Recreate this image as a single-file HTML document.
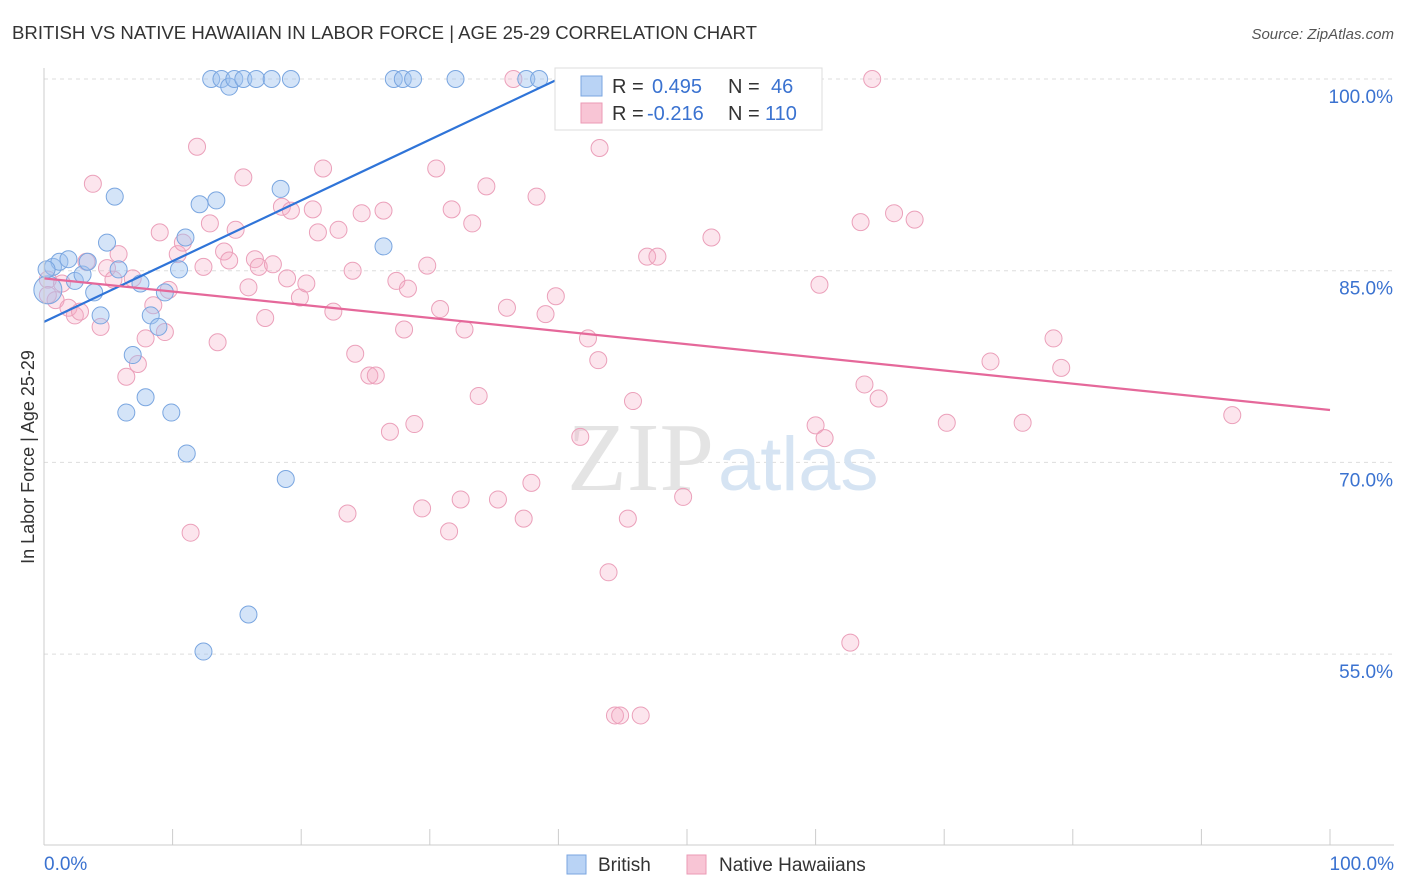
<!DOCTYPE html>
<html><head><meta charset="utf-8"><style>
body{margin:0;background:#fff;font-family:"Liberation Sans",sans-serif;}
svg{display:block}
</style></head><body>
<svg id="chart" width="1406" height="892" xmlns="http://www.w3.org/2000/svg">
<text x="12" y="39" font-size="18.6" fill="#333" textLength="745">BRITISH VS NATIVE HAWAIIAN IN LABOR FORCE | AGE 25-29 CORRELATION CHART</text>
<text x="1394" y="39" font-size="15" fill="#555" font-style="italic" text-anchor="end">Source: ZipAtlas.com</text>
<text x="34" y="457" font-size="18" fill="#333" text-anchor="middle" transform="rotate(-90 34 457)">In Labor Force | Age 25-29</text>
<g id="grid"></g>
<text x="714" y="490" font-size="98" fill="#e4e4e4" font-family="Liberation Serif,serif" text-anchor="end">ZIP</text>
<text x="718" y="490" font-size="76" fill="#d6e4f3" text-anchor="start">atlas</text>
<g id="points"></g>
<g id="lines"></g>
<g id="axes"></g>
<g>
<rect x="555" y="68" width="267" height="62" fill="#fff" stroke="#ddd"/>
<rect x="581" y="76" width="21" height="20" fill="#b9d3f5" stroke="#7aa6e0"/>
<rect x="581" y="103" width="21" height="20" fill="#f8c5d5" stroke="#eb9ab5"/>
<g font-size="20">
<text x="612" y="93" fill="#333">R =</text><text x="652" y="93" fill="#3a72d0">0.495</text>
<text x="728" y="93" fill="#333">N =</text><text x="771" y="93" fill="#3a72d0">46</text></g>
<g font-size="20">
<text x="612" y="120" fill="#333">R =</text><text x="647" y="120" fill="#3a72d0">-0.216</text>
<text x="728" y="120" fill="#333">N =</text><text x="765" y="120" fill="#3a72d0">110</text></g>
</g>
<g>
<rect x="567" y="855" width="19" height="19" fill="#b9d3f5" stroke="#7aa6e0"/>
<text x="598" y="871" font-size="19" fill="#333">British</text>
<rect x="687" y="855" width="19" height="19" fill="#f8c5d5" stroke="#eb9ab5"/>
<text x="719" y="871" font-size="19" fill="#333">Native Hawaiians</text>
</g>
</svg>
<script>
const yTicks=[100,85,70,55];
const yTickLabels=["100.0%","85.0%","70.0%","55.0%"];
const xTicks=[0,10,20,30,40,50,60,70,80,90,100];
const britishX=[0.7,1.2,1.9,2.4,3.0,3.4,3.9,4.4,4.9,5.5,5.8,6.4,6.9,7.5,7.9,8.3,8.9,9.4,9.9,10.5,11.0,11.1,12.1,12.4,13.0,13.4,13.8,14.4,14.8,15.5,15.9,16.5,17.7,18.4,18.8,19.2,26.4,27.2,27.9,28.7,32.0,37.5,38.5,0.3,0.2];
const britishY=[85.3,85.7,85.9,84.2,84.7,85.7,83.3,81.5,87.2,90.8,85.1,73.9,78.4,84.0,75.1,81.5,80.6,83.3,73.9,85.1,87.6,70.7,90.2,55.2,100,90.5,100,99.4,100,100,58.1,100,100,91.4,68.7,100,86.9,100,100,100,100,100,100,83.5,85.1];
const hawX=[0.3,0.9,1.4,1.9,2.4,2.8,3.3,3.8,4.4,4.9,5.4,5.8,6.4,6.9,7.3,7.9,8.5,9.0,9.4,9.7,10.4,10.8,11.4,11.9,12.4,12.9,13.5,14.0,14.4,14.9,15.5,15.9,16.4,16.7,17.2,17.8,18.5,18.9,19.2,19.9,20.4,20.9,21.3,21.7,22.5,22.9,23.6,24.0,24.2,24.7,25.3,25.8,26.4,26.9,27.4,28.0,28.3,28.8,29.4,29.8,30.5,30.8,31.5,31.7,32.4,32.7,33.3,33.8,34.4,35.3,36.0,36.5,37.3,37.9,38.3,39.0,39.8,41.7,42.3,43.1,43.2,43.9,44.4,44.8,45.4,45.8,46.4,46.9,47.7,49.7,51.9,53.7,60.0,60.3,60.7,62.7,63.5,63.8,64.4,64.9,66.1,67.7,70.2,73.6,76.1,78.5,79.1,92.4,0.3];
const hawY=[84.3,82.7,84.0,82.1,81.5,81.8,85.7,91.8,80.6,85.2,84.3,86.3,76.7,84.4,77.7,79.7,82.3,88.0,80.2,83.5,86.3,87.2,64.5,94.7,85.3,88.7,79.4,86.5,85.8,88.2,92.3,83.7,85.9,85.3,81.3,85.5,90.0,84.4,89.7,82.9,84.0,89.8,88.0,93.0,81.8,88.2,66.0,85.0,78.5,89.5,76.8,76.8,89.7,72.4,84.2,80.4,83.6,73.0,66.4,85.4,93.0,82.0,64.6,89.8,67.1,80.4,88.7,75.2,91.6,67.1,82.1,100,65.6,68.4,90.8,81.6,83.0,72.0,79.7,78.0,94.6,61.4,50.2,50.2,65.6,74.8,50.2,86.1,86.1,67.3,87.6,97.6,72.9,83.9,71.9,55.9,88.8,76.1,100,75.0,89.5,89.0,73.1,77.9,73.1,79.7,77.4,73.7,83.1];
const britishTrend=[[0,81.0],[40,100]];
const hawTrend=[[0,84.4],[100,74.1]];
const NS="http://www.w3.org/2000/svg";
const X=v=>44+v*12.86, Y=v=>79+(100-v)*12.78;
function mk(t,a,p){const e=document.createElementNS(NS,t);for(const k in a)e.setAttribute(k,a[k]);p.appendChild(e);return e;}
const grid=document.getElementById('grid'),axes=document.getElementById('axes'),pts=document.getElementById('points'),lines=document.getElementById('lines');
yTicks.forEach((t,i)=>{
 const l=mk('line',{x1:44,x2:1394,y1:Y(t),y2:Y(t),stroke:'#ddd','stroke-dasharray':'4,4'},grid);
 
 
 const tx=mk('text',{x:1393,y:Y(t)+24,'font-size':19,fill:'#3a72d0','text-anchor':'end'},axes);
 tx.textContent=yTickLabels[i];
 
 
});
const xl=mk('line',{x1:44,x2:1394,y1:845,y2:845,stroke:'#ccc'},axes);


const yl=mk('line',{x1:44,x2:44,y1:68,y2:845,stroke:'#ccc'},axes);


xTicks.forEach(t=>{
 const l=mk('line',{x1:X(t),x2:X(t),y1:829,y2:845,stroke:'#ccc'},axes);
 
 
});
[[0,'0.0%','start',44],[100,'100.0%','end',1394]].forEach(d=>{
 const tx=mk('text',{x:d[3],y:870,'font-size':19,fill:'#3a72d0','text-anchor':d[2]},axes);
 tx.textContent=d[1];
 
 
});
hawX.forEach((v,i)=>{
 const c=mk('circle',{cx:X(v),cy:Y(hawY[i]),r:8.5,fill:'rgba(245,170,195,0.3)',stroke:'#eba0ba','stroke-width':1},pts);
 
 
});
britishX.forEach((v,i)=>{
 const c=mk('circle',{cx:X(v),cy:Y(britishY[i]),r:i==43?14:8.5,fill:'rgba(160,195,240,0.45)',stroke:'#7aa6e0','stroke-width':1},pts);
 
 
});
const b=mk('line',{x1:X(britishTrend[0][0]),y1:Y(britishTrend[0][1]),x2:X(britishTrend[1][0]),y2:Y(britishTrend[1][1]),stroke:'#2f74d8','stroke-width':2.2},lines);


const h=mk('line',{x1:X(hawTrend[0][0]),y1:Y(hawTrend[0][1]),x2:X(hawTrend[1][0]),y2:Y(hawTrend[1][1]),stroke:'#e5689a','stroke-width':2.2},lines);


</script>
</body></html>
